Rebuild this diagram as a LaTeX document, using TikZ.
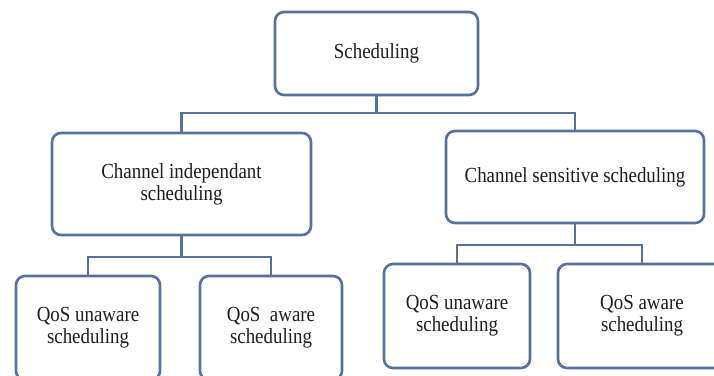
\documentclass[tikz,border=0pt]{standalone}
\usepackage{fontspec}
\setmainfont[FakeStretch=0.88]{Liberation Serif}
\definecolor{edge}{RGB}{88,112,158}
\definecolor{ink}{RGB}{30,30,30}
\begin{document}
\begin{tikzpicture}[x=1bp,y=-1bp,
  box/.style={draw=edge, line width=2.6bp, rounded corners=9bp, fill=white,
    align=center, text=ink, inner sep=0pt,
    font=\fontsize{21.5bp}{22bp}\selectfont},
  link/.style={draw=edge, line width=2.6bp}]
\useasboundingbox (0,0) rectangle (714,375);
\clip (0,0) rectangle (714,375);
\fill[white] (0,0) rectangle (714,375);
\node[box, minimum width=203bp, minimum height=83bp] (top) at (376.5,53.5) {Scheduling};
\node[box, minimum width=259bp, minimum height=102bp] (midL) at (181.5,184) {Channel independant\\scheduling};
\node[box, minimum width=258bp, minimum height=92bp] (midR) at (575,177) {Channel sensitive scheduling};
\node[box, minimum width=144bp, minimum height=104bp] (l1) at (88,328) {QoS unaware\\scheduling};
\node[box, minimum width=142bp, minimum height=104bp] (l2) at (271,328) {QoS~ aware\\scheduling};
\node[box, minimum width=146bp, minimum height=104bp] (r1) at (457,316) {QoS unaware\\scheduling};
\node[box, minimum width=168bp, minimum height=104bp] (r2) at (642,316) {QoS aware\\scheduling};
\coordinate (b1) at (376.5,113);
\coordinate (b2) at (181.5,257);
\coordinate (b3) at (575,245);
\draw[link] (top.south) -- (b1);
\draw[link] (midL.north) |- (b1) -| (midR.north);
\draw[link] (midL.south) -- (b2);
\draw[link] (l1.north) |- (b2) -| (l2.north);
\draw[link] (midR.south) -- (b3);
\draw[link] (r1.north) |- (b3) -| (r2.north);
\end{tikzpicture}
\end{document}
